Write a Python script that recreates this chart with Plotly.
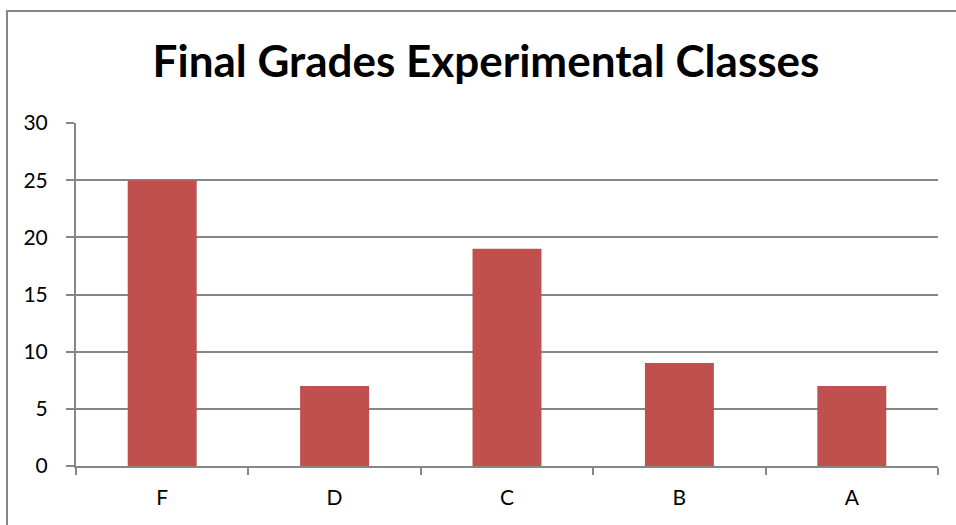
import plotly.graph_objects as go

categories = ["F", "D", "C", "B", "A"]
counts = [25, 7, 19, 9, 7]
y_ticks = [0, 5, 10, 15, 20, 25, 30]
title_text = "Final Grades Experimental Classes"

W, H = 956, 525
L, R, T, B = 76, 18, 123, 59
pw, ph = W - L - R, H - T - B

def px_x(x):  # screen px -> paper
    return (x - L) / pw

def px_y(y):
    return (H - B - y) / ph

fig = go.Figure(go.Bar(x=categories, y=counts, marker=dict(color="#C0504D", line=dict(width=0))))

fig.update_layout(
    width=W, height=H,
    margin=dict(l=L, r=R, t=T, b=B),
    paper_bgcolor="white", plot_bgcolor="white",
    bargap=0.6,
    showlegend=False,
    title=dict(text="<b>" + title_text + "</b>", x=486 / W, xanchor="center",
               y=1 - 62 / H, yanchor="middle", xref="container", yref="container",
               font=dict(family="Lato, Carlito, sans-serif", size=44, color="black")),
    font=dict(family="Lato, Carlito, sans-serif", size=21, color="black"),
)
fig.update_xaxes(
    type="category", showgrid=False, showline=True, linecolor="#868686", linewidth=2,
    ticks="outside", tickson="boundaries", ticklen=7, tickcolor="#868686", tickwidth=2,
    ticklabelstandoff=12, tickfont=dict(size=21),
)
fig.update_yaxes(
    range=[0, 30], tickvals=y_ticks, showgrid=True, gridcolor="#868686", gridwidth=2,
    showline=True, linecolor="#868686", linewidth=2, zeroline=False,
    ticks="outside", ticklen=8, tickcolor="#868686", tickwidth=2,
    ticklabelstandoff=14, tickfont=dict(size=21),
)
fig.add_shape(type="rect", xref="paper", yref="paper",
              x0=px_x(7), x1=px_x(975), y0=px_y(540), y1=px_y(11),
              line=dict(color="#868686", width=2), fillcolor="rgba(0,0,0,0)", layer="below")

fig.write_html("out.html", config={"displayModeBar": False},
               post_script="document.body.style.margin='0';document.body.style.overflow='hidden';")
